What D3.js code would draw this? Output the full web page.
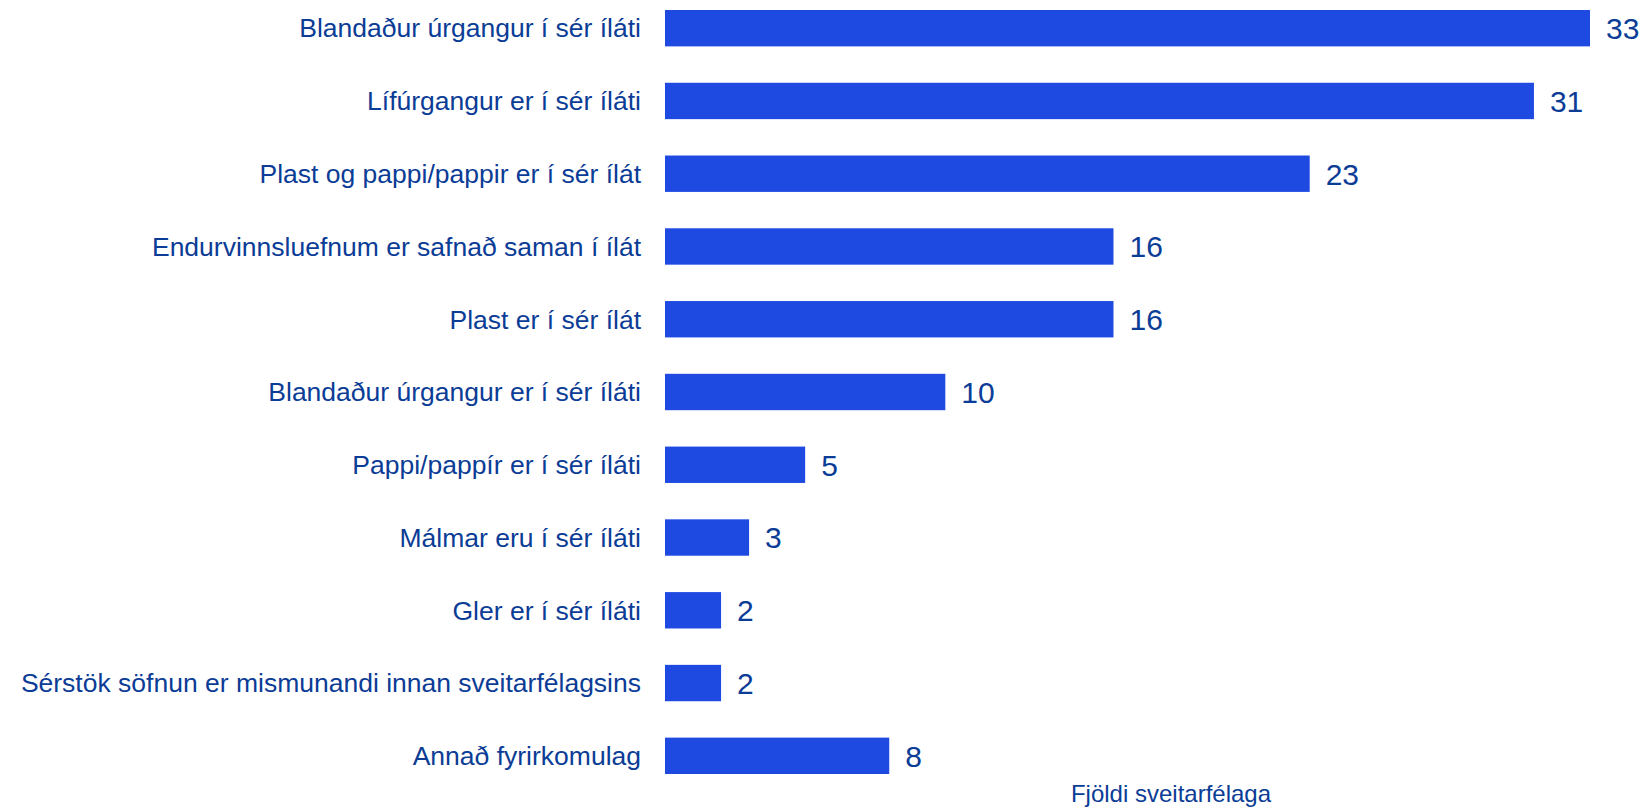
<!DOCTYPE html>
<html>
<head>
<meta charset="utf-8">
<script src="https://cdn.jsdelivr.net/npm/d3@7.9.0/dist/d3.min.js"></script>
<style>
  html, body { margin: 0; padding: 0; background: #fff; }
  svg { display: block; font-family: "Liberation Sans", Arial, sans-serif; }
</style>
</head>
<body>
<svg id="chart" width="1647" height="808"></svg>
<script>
const categories = [
  'Blandaður úrgangur í sér íláti',
  'Lífúrgangur er í sér íláti',
  'Plast og pappi/pappir er í sér ílát',
  'Endurvinnsluefnum er safnað saman í ílát',
  'Plast er í sér ílát',
  'Blandaður úrgangur er í sér íláti',
  'Pappi/pappír er í sér íláti',
  'Málmar eru í sér íláti',
  'Gler er í sér íláti',
  'Sérstök söfnun er mismunandi innan sveitarfélagsins',
  'Annað fyrirkomulag'
];
const values = [33, 31, 23, 16, 16, 10, 5, 3, 2, 2, 8];
const axisTitle = 'Fjöldi sveitarfélaga';

const barColor = '#1f4ae1';
const textColor = '#0b3c96';

const svg = d3.select('#chart');

const x = d3.scaleLinear()
  .domain([0, 33])
  .range([665, 1590]);

const y = d3.scaleBand()
  .domain(categories)
  .range([10, 774])
  .paddingInner(0.5)
  .paddingOuter(0);

svg.selectAll('rect.bar')
  .data(values)
  .enter()
  .append('rect')
    .attr('class', 'bar')
    .attr('x', x(0))
    .attr('y', (d, i) => y(categories[i]))
    .attr('width', d => x(d) - x(0))
    .attr('height', y.bandwidth())
    .attr('fill', barColor);

// category labels
svg.selectAll('text.cat')
  .data(categories)
  .enter()
  .append('text')
    .attr('class', 'cat')
    .attr('x', x(0) - 24)
    .attr('y', d => y(d) + y.bandwidth() / 2)
    .attr('dy', '0.35em')
    .attr('text-anchor', 'end')
    .attr('font-size', 26.5)
    .attr('fill', textColor)
    .text(d => d);

// value labels
svg.selectAll('text.val')
  .data(values)
  .enter()
  .append('text')
    .attr('class', 'val')
    .attr('x', d => x(d) + 16)
    .attr('y', (d, i) => y(categories[i]) + y.bandwidth() / 2)
    .attr('dy', '0.36em')
    .attr('font-size', 30)
    .attr('fill', textColor)
    .text(d => d);

svg.append('text')
  .attr('x', 1171)
  .attr('y', 802)
  .attr('text-anchor', 'middle')
  .attr('font-size', 24)
  .attr('fill', textColor)
  .text(axisTitle);
</script>
</body>
</html>
